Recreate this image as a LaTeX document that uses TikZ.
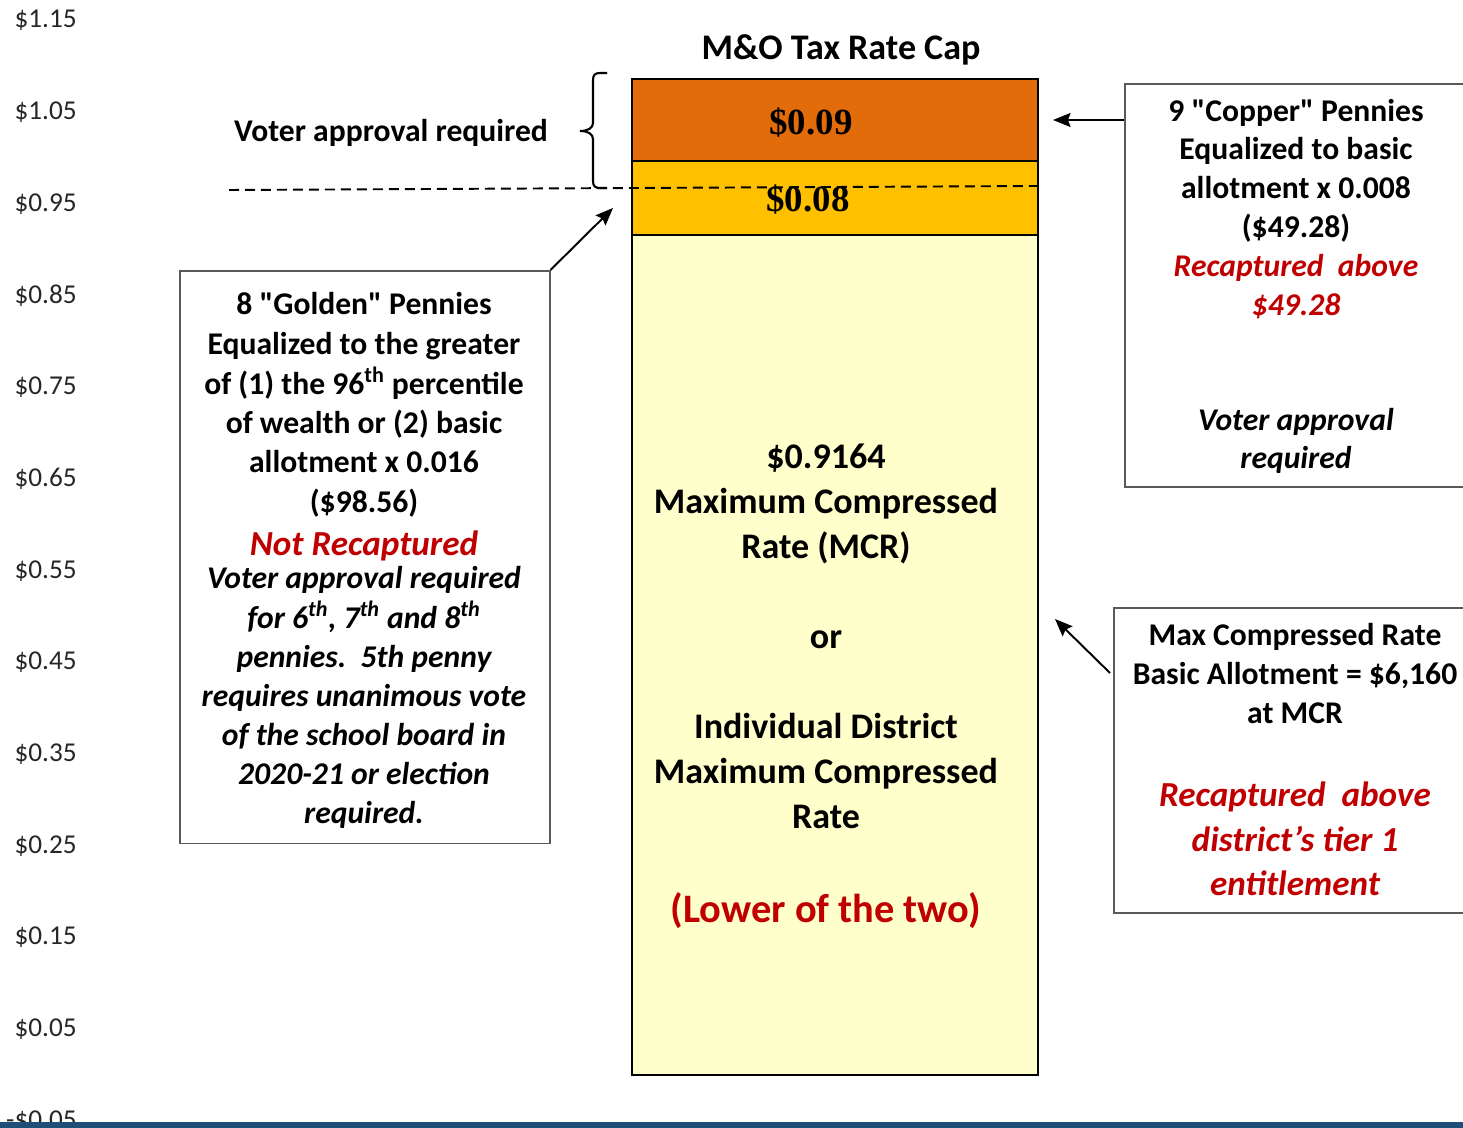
\documentclass[tikz,border=0pt]{standalone}
\usepackage{fontspec}
\setmainfont{Carlito}
\newfontfamily\timesf{Liberation Serif}
\usetikzlibrary{arrows.meta}
\definecolor{orangeA}{HTML}{E36C0A}
\definecolor{goldA}{HTML}{FFC000}
\definecolor{creamA}{HTML}{FFFFCC}
\definecolor{redA}{HTML}{C00000}
\definecolor{blueA}{HTML}{1F4E79}
\definecolor{axisA}{HTML}{262626}
\definecolor{boxA}{HTML}{595959}
\begin{document}
\begin{tikzpicture}[x=0.02cm,y={(0,-0.02cm)},
  ax/.style={anchor=base east,inner sep=0,text=axisA,font=\fontsize{15.5}{18}\selectfont},
  bt/.style={anchor=base,inner sep=0,font=\fontsize{18}{22}\selectfont\bfseries},
  bti/.style={bt,font=\fontsize{18}{22}\selectfont\bfseries\itshape},
  bigred/.style={anchor=base,inner sep=0,text=redA,font=\fontsize{20}{24}\selectfont\bfseries\itshape},
  ct/.style={anchor=base,inner sep=0,font=\fontsize{20.5}{25}\selectfont\bfseries},
  seg/.style={draw=black,line width=1.2pt,anchor=north west,minimum width=8.12cm,inner sep=0},
  infobox/.style={draw=boxA,line width=0.9pt,anchor=north west,inner sep=0},
  pen/.style={anchor=base,inner sep=0,font=\fontsize{21}{25}\selectfont\timesf\bfseries},
  arr/.style={-{Stealth[length=10pt,width=8pt,inset=1.5pt]},line width=1.1pt}]
\useasboundingbox (0,0) rectangle (1463,1128);
\clip (0,0) rectangle (1463,1128);

% axis labels
\foreach \v [count=\i from 0] in {\$1.15,\$1.05,\$0.95,\$0.85,\$0.75,\$0.65,\$0.55,\$0.45,\$0.35,\$0.25,\$0.15,\$0.05,-\$0.05}
  \node[ax] (ax\i) at (77,{28+91.67*\i}) {\v};

% title
\node[anchor=base,inner sep=0,font=\fontsize{20.5}{25}\selectfont\bfseries] (title) at (841,60) {M\&O Tax Rate Cap};

% bar segments
\node[seg,fill=orangeA,minimum height=1.64cm] (s9) at (631,78) {};
\node[seg,fill=goldA,minimum height=1.48cm] (s8) at (631,160) {};
\node[seg,fill=creamA,minimum height=16.8cm] (smcr) at (631,234) {};
\node[pen] (p9) at (811,135) {\$0.09};
\node[pen] (p8) at (808,212) {\$0.08};

% dashed line
\coordinate (dL) at (229,190);
\coordinate (dR) at (1037,186);
\draw[dashed,dash pattern=on 0.2cm off 0.12cm,line width=1.1pt] (dL) -- (dR);

% brace
\coordinate (brB) at (607,188);
\coordinate (brT) at (607,73);
\draw[line width=1.2pt] (brT) -- (600,73) .. controls (595,73) and (593,75) .. (593,80)
  -- (593,123) .. controls (593,128) and (588,131) .. (580,131)
  .. controls (588,131) and (593,134) .. (593,139)
  -- (593,181) .. controls (593,186) and (595,188) .. (600,188) -- (brB);
\node[bt] (vote) at (391,142) {Voter approval required};

% center text
\node[ct] (c1) at (826,468) {\$0.9164};
\node[ct] (c2) at (826,513) {Maximum Compressed};
\node[ct] (c3) at (826,558) {Rate (MCR)};
\node[ct] (c4) at (826,648) {or};
\node[ct] (c5) at (826,738) {Individual District};
\node[ct] (c6) at (826,783) {Maximum Compressed};
\node[ct] (c7) at (826,828) {Rate};
\node[anchor=base,inner sep=0,text=redA,font=\fontsize{23}{28}\selectfont\bfseries] (c8) at (826,922) {(Lower of the two)};

% golden box
\node[infobox,minimum width=7.4cm,minimum height=11.46cm] (golden) at (179,270) {};
\node[bt] (g1) at (364,315) {8 \textquotedbl Golden\textquotedbl\ Pennies};
\node[bt] (g2) at (364,354.5) {Equalized to the greater};
\node[bt] (g3) at (364,394) {of (1) the 96\textsuperscript{th} percentile};
\node[bt] (g4) at (364,433) {of wealth or (2) basic};
\node[bt] (g5) at (364,472.5) {allotment x 0.016};
\node[bt] (g6) at (364,512) {(\$98.56)};
\node[bigred] (g7) at (364,555) {Not Recaptured};
\node[bti] (g8) at (364,588) {Voter approval required};
\node[bti] (g9) at (364,628) {for 6\textsuperscript{th}, 7\textsuperscript{th} and 8\textsuperscript{th}};
\node[bti] (g10) at (364,667) {pennies.\ \ 5th penny};
\node[bti] (g11) at (364,706) {requires unanimous vote};
\node[bti] (g12) at (364,745) {of the school board in};
\node[bti] (g13) at (364,784) {2020-21 or election};
\node[bti] (g14) at (364,823) {required.};

% copper box
\node[infobox,minimum width=6.92cm,minimum height=8.06cm] (copper) at (1124,83) {};
\node[bt] (k1) at (1296,122) {9 \textquotedbl Copper\textquotedbl\ Pennies};
\node[bt] (k2) at (1296,160) {Equalized to basic};
\node[bt] (k3) at (1296,199) {allotment x 0.008};
\node[bt] (k4) at (1296,238) {(\$49.28)};
\node[bti,text=redA] (k5) at (1296,277) {Recaptured\ \ above};
\node[bti,text=redA] (k6) at (1296,316) {\$49.28};
\node[bti] (k7) at (1296,430) {Voter approval};
\node[bti] (k8) at (1296,468) {required};

% MCR box
\node[infobox,minimum width=7.28cm,minimum height=6.1cm] (mcr) at (1113,607) {};
\node[bt] (m1) at (1295,645) {Max Compressed Rate};
\node[bt] (m2) at (1295,684) {Basic Allotment = \$6,160};
\node[bt] (m3) at (1295,723) {at MCR};
\node[bigred] (m4) at (1295,806) {Recaptured\ \ above};
\node[bigred] (m5) at (1295,851) {district’s tier 1};
\node[bigred] (m6) at (1295,895) {entitlement};

% arrows
\coordinate (tipC) at (1053,120);
\draw[arr] (copper.west |- tipC) -- (tipC);
\coordinate (tipG) at (613,208);
\draw[arr] (golden.north east) -- (tipG);
\coordinate (tipM) at (1055,619);
\coordinate (startM) at (1110,673);
\draw[arr] (startM) -- (tipM);

% bottom bar
\fill[blueA] (0,1122) rectangle (1463,1128);
\end{tikzpicture}
\end{document}
